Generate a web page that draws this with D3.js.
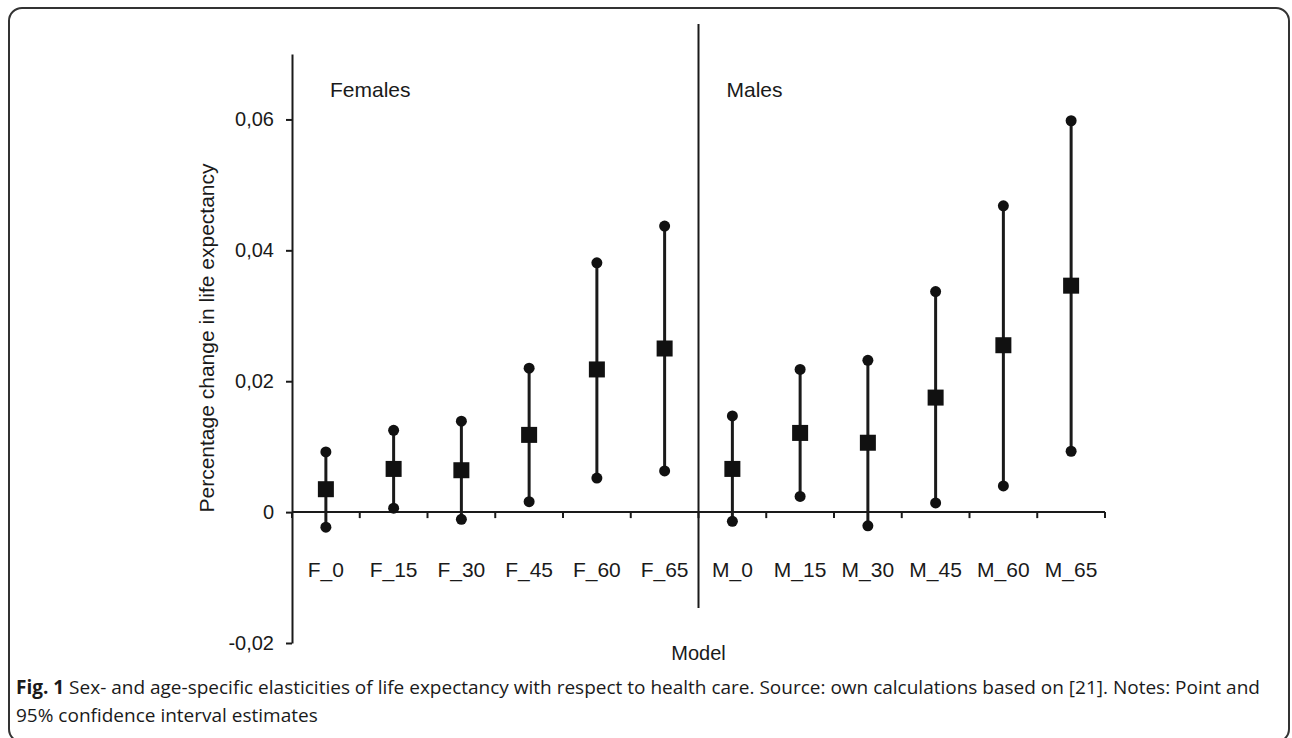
<!DOCTYPE html>
<html>
<head>
<meta charset="utf-8">
<script src="https://cdn.jsdelivr.net/npm/d3@7"></script>
<style>
  body { margin: 0; background: #fff; }
  svg { display: block; }
  text { font-family: "Liberation Sans", Arial, sans-serif; fill: #1a1a1a; }
  .caption { font-family: "Open Sans", sans-serif; }
</style>
</head>
<body>
<div id="chart"></div>
<script>
// model categories (females then males)
const models = ["F_0", "F_15", "F_30", "F_45", "F_60", "F_65",
                "M_0", "M_15", "M_30", "M_45", "M_60", "M_65"];
// point estimates
const estimate = [0.0035, 0.0066, 0.0064, 0.0118, 0.0218, 0.0250,
                  0.0066, 0.0121, 0.0106, 0.0175, 0.0255, 0.0346];
// 95% confidence interval bounds
const lower = [-0.0023, 0.0006, -0.0011, 0.0016, 0.0052, 0.0063,
               -0.0014, 0.0024, -0.0021, 0.0014, 0.0040, 0.0093];
const upper = [0.0092, 0.0125, 0.0139, 0.0220, 0.0381, 0.0437,
               0.0147, 0.0218, 0.0232, 0.0337, 0.0468, 0.0598];
const yTicks = [-0.02, 0, 0.02, 0.04, 0.06];
const yDomain = [-0.02, 0.07];

const width = 1292;
const height = 738;
const margin = { top: 54, right: 187, bottom: 95, left: 292 };

const svg = d3.select("#chart")
  .append("svg")
  .attr("width", width)
  .attr("height", height);

// figure frame
svg.append("rect")
  .attr("x", 9).attr("y", 8)
  .attr("width", 1280).attr("height", 734)
  .attr("rx", 13)
  .attr("fill", "none")
  .attr("stroke", "#333")
  .attr("stroke-width", 2);

const x = d3.scaleBand()
  .domain(models)
  .range([margin.left, width - margin.right]);

const y = d3.scaleLinear()
  .domain(yDomain)
  .range([height - margin.bottom, margin.top]);

const locale = d3.formatLocale({ decimal: ",", thousands: ".", grouping: [3], currency: ["", ""], minus: "-" });
const fmt = locale.format(".2f");

// y axis
const yAxis = svg.append("g")
  .attr("transform", `translate(${margin.left},0)`)
  .call(d3.axisLeft(y)
    .tickValues(yTicks)
    .tickSize(6)
    .tickSizeOuter(0)
    .tickPadding(12)
    .tickFormat(d => d === 0 ? "0" : fmt(d)));
yAxis.select(".domain").attr("stroke", "#1a1a1a").attr("stroke-width", 2);
yAxis.selectAll(".tick line").attr("stroke", "#1a1a1a").attr("stroke-width", 2);
yAxis.selectAll("text").style("font-size", "20px").attr("fill", "#1a1a1a");

// x axis line at zero with ticks on band edges
const x0 = y(0);
const xEnd = x.range()[1];
svg.append("line")
  .attr("x1", margin.left).attr("x2", xEnd)
  .attr("y1", x0).attr("y2", x0)
  .attr("stroke", "#1a1a1a").attr("stroke-width", 2);
const edges = models.map(m => x(m)).concat([xEnd]);
svg.selectAll(".edge")
  .data(edges)
  .enter()
  .append("line")
  .attr("class", "edge")
  .attr("x1", d => d).attr("x2", d => d)
  .attr("y1", x0).attr("y2", x0 + 6)
  .attr("stroke", "#1a1a1a").attr("stroke-width", 2);

// category labels
const xAxis = svg.append("g")
  .attr("transform", `translate(0,${x0})`)
  .call(d3.axisBottom(x).tickSize(0).tickPadding(50));
xAxis.select(".domain").remove();
xAxis.selectAll("text").style("font-size", "21px").attr("fill", "#1a1a1a");

// separator between females and males
svg.append("line")
  .attr("x1", x("M_0")).attr("x2", x("M_0"))
  .attr("y1", y(yDomain[1]) - 30).attr("y2", y(yDomain[0]) - 35)
  .attr("stroke", "#1a1a1a").attr("stroke-width", 2);

svg.append("text")
  .attr("x", x("F_0") + 38).attr("y", 97)
  .style("font-size", "21px")
  .text("Females");
svg.append("text")
  .attr("x", x("M_0") + 28).attr("y", 97)
  .style("font-size", "21px")
  .text("Males");

// error bars
const rows = models.map((m, i) => ({ m, est: estimate[i], lo: lower[i], hi: upper[i] }));

svg.selectAll(".ci")
  .data(rows)
  .enter()
  .append("line")
  .attr("class", "ci")
  .attr("x1", d => x(d.m) + x.bandwidth() / 2)
  .attr("x2", d => x(d.m) + x.bandwidth() / 2)
  .attr("y1", d => y(d.lo))
  .attr("y2", d => y(d.hi))
  .attr("stroke", "#1a1a1a")
  .attr("stroke-width", 3);

svg.selectAll(".lo")
  .data(rows)
  .enter()
  .append("circle")
  .attr("cx", d => x(d.m) + x.bandwidth() / 2)
  .attr("cy", d => y(d.lo))
  .attr("r", 5.5)
  .attr("fill", "#111");

svg.selectAll(".hi")
  .data(rows)
  .enter()
  .append("circle")
  .attr("cx", d => x(d.m) + x.bandwidth() / 2)
  .attr("cy", d => y(d.hi))
  .attr("r", 5.5)
  .attr("fill", "#111");

const sq = 16;
svg.selectAll(".est")
  .data(rows)
  .enter()
  .append("rect")
  .attr("x", d => x(d.m) + x.bandwidth() / 2 - sq / 2)
  .attr("y", d => y(d.est) - sq / 2)
  .attr("width", sq)
  .attr("height", sq)
  .attr("fill", "#111");

// axis titles
svg.append("text")
  .attr("transform", `translate(214,338) rotate(-90)`)
  .attr("text-anchor", "middle")
  .style("font-size", "21px")
  .text("Percentage change in life expectancy");

svg.append("text")
  .attr("x", (margin.left + xEnd) / 2)
  .attr("y", 660)
  .attr("text-anchor", "middle")
  .style("font-size", "20px")
  .text("Model");

// caption
const cap = svg.append("text")
  .attr("class", "caption")
  .attr("x", 16).attr("y", 694)
  .style("font-size", "19px");
cap.append("tspan").style("font-weight", "bold").text("Fig. 1");
cap.append("tspan").text(" Sex- and age-specific elasticities of life expectancy with respect to health care. Source: own calculations based on [21]. Notes: Point and");
svg.append("text")
  .attr("class", "caption")
  .attr("x", 16).attr("y", 722)
  .style("font-size", "19px")
  .text("95% confidence interval estimates");
</script>
</body>
</html>
